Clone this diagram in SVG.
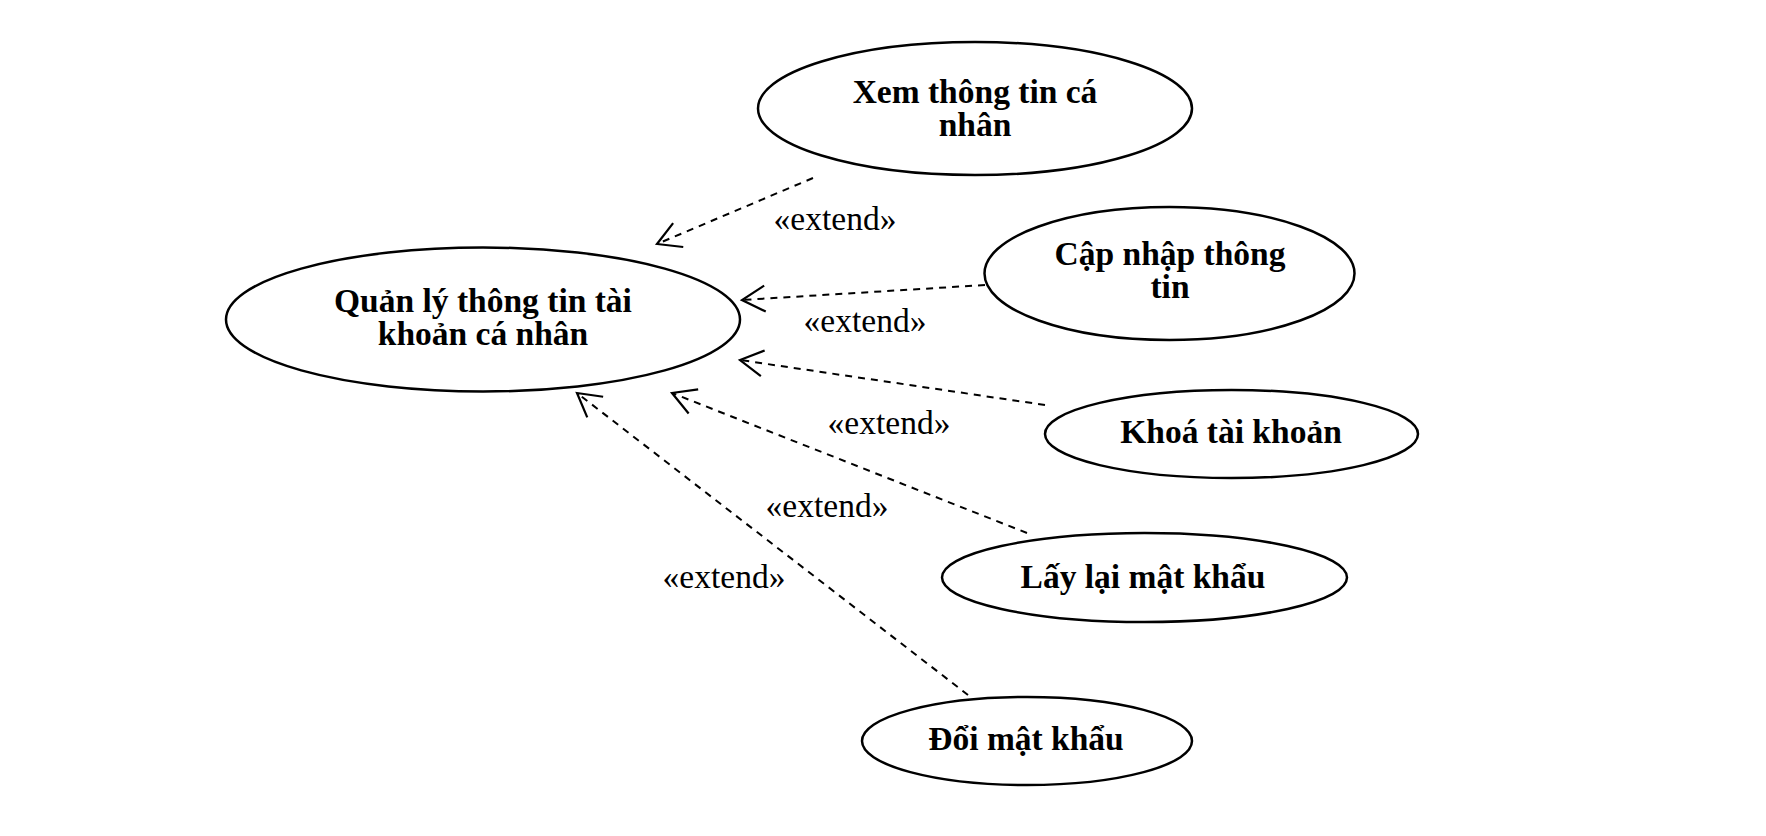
<svg xmlns="http://www.w3.org/2000/svg" width="1766" height="836" viewBox="0 0 1766 836">
<defs>
<style>
.uc{fill:#fff;stroke:#000;stroke-width:2.5}
.lbl{font-family:"Liberation Serif","Times New Roman",serif;font-weight:bold;font-size:33.5px;fill:#000;text-anchor:middle}
.ext{font-family:"Liberation Serif","Times New Roman",serif;font-size:33.5px;fill:#000;text-anchor:middle}
.dep{fill:none;stroke:#000;stroke-width:2;stroke-dasharray:7 6}
</style>
<marker id="open" markerUnits="userSpaceOnUse" markerWidth="40" markerHeight="40" viewBox="-30 -20 40 40" refX="0" refY="0" orient="auto">
<path d="M-23,-13 L0,0 L-23,13" fill="none" stroke="#000" stroke-width="2.2"/>
</marker>
</defs>
<rect width="1766" height="836" fill="#fff"/>
<g id="connectors">
<line class="dep" x1="813" y1="178" x2="657" y2="244" marker-end="url(#open)"/>
<line class="dep" x1="985" y1="285" x2="742" y2="300" marker-end="url(#open)"/>
<line class="dep" x1="1045" y1="405" x2="740" y2="360" marker-end="url(#open)"/>
<line class="dep" x1="1027" y1="533" x2="672" y2="393" marker-end="url(#open)"/>
<line class="dep" x1="968" y1="695" x2="577" y2="393" marker-end="url(#open)"/>
<text class="ext" x="835" y="230">«extend»</text>
<text class="ext" x="865" y="332">«extend»</text>
<text class="ext" x="889" y="434">«extend»</text>
<text class="ext" x="827" y="517">«extend»</text>
<text class="ext" x="724" y="588">«extend»</text>
</g>
<g id="main">
<ellipse class="uc" cx="483" cy="319.5" rx="257" ry="72"/>
<text class="lbl" x="483" y="312">Quản lý thông tin tài</text>
<text class="lbl" x="483" y="345">khoản cá nhân</text>
</g>
<g id="xem">
<ellipse class="uc" cx="975" cy="108.5" rx="217" ry="66.5"/>
<text class="lbl" x="975" y="103">Xem thông tin cá</text>
<text class="lbl" x="975" y="136">nhân</text>
</g>
<g id="capnhap">
<ellipse class="uc" cx="1169.5" cy="273.5" rx="185" ry="66.5"/>
<text class="lbl" x="1170" y="265">Cập nhập thông</text>
<text class="lbl" x="1170" y="298">tin</text>
</g>
<g id="khoa">
<ellipse class="uc" cx="1231.5" cy="434" rx="186.5" ry="44"/>
<text class="lbl" x="1231" y="443">Khoá tài khoản</text>
</g>
<g id="laylai">
<ellipse class="uc" cx="1144.5" cy="577.5" rx="202.5" ry="44.5"/>
<text class="lbl" x="1143" y="588">Lấy lại mật khẩu</text>
</g>
<g id="doi">
<ellipse class="uc" cx="1027" cy="741" rx="165" ry="44"/>
<text class="lbl" x="1026" y="750">Đổi mật khẩu</text>
</g>
</svg>
